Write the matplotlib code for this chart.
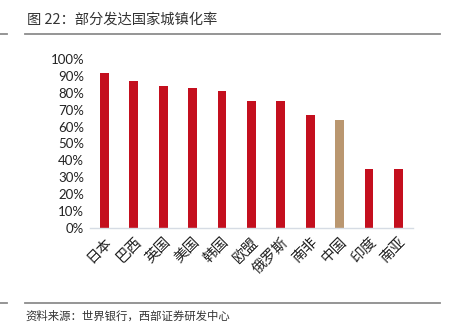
import matplotlib
matplotlib.use("Agg")
import matplotlib.pyplot as plt
from matplotlib.lines import Line2D

categories = ["日本", "巴西", "英国", "美国", "韩国", "欧盟", "俄罗斯", "南非", "中国", "印度", "南亚"]
values = [92, 87, 84, 83, 81, 75, 75, 67, 64, 35, 35]
highlight = "中国"
ytick_vals = list(range(0, 101, 10))
ytick_labels = [f"{v}%" for v in ytick_vals]

title = "图 22：部分发达国家城镇化率"
source = "资料来源：世界银行，西部证券研发中心"

red = "#C40F1E"
tan = "#BA9770"
cjk = ["Noto Sans CJK SC", "DejaVu Sans"]

W, H = 449, 331
fig = plt.figure(figsize=(W / 100, H / 100), dpi=100)
ax = fig.add_axes([89.8 / W, 1 - 228 / H, (413 - 89.8) / W, (228 - 59) / H])

colors = [tan if c == highlight else red for c in categories]
x = list(range(len(categories)))
ax.bar(x, values, width=0.3, color=colors, zorder=2)
ax.set_xlim(-0.5, len(categories) - 0.5)
ax.set_ylim(0, 100)
ax.set_yticks(ytick_vals)
ax.set_yticklabels(ytick_labels, fontsize=9.5, family=["Lato", "DejaVu Sans"], color="#222222")
ax.set_xticks(x)
ax.set_xticklabels(categories, rotation=45, ha="right", rotation_mode="anchor",
                   fontsize=10.5, family=cjk, color="#222222", fontweight="light")
ax.tick_params(axis="both", length=0, pad=4)
ax.tick_params(axis="x", pad=5)
for s in ["top", "right", "left"]:
    ax.spines[s].set_visible(False)
ax.spines["bottom"].set_color("#D6DCE4")
ax.spines["bottom"].set_linewidth(1.0)

fig.text(27 / W, 1 - 20 / H, title, fontsize=10.3, family=cjk, color="#333333",
         va="center", ha="left", fontweight="light")
fig.text(25 / W, 1 - 316 / H, source, fontsize=8.2, family=cjk, color="#333333",
         va="center", ha="left", fontweight="light")

for yy in [34, 302.5]:
    fig.add_artist(Line2D([25 / W, 440 / W], [1 - yy / H, 1 - yy / H], color="#8C8C8C", lw=1.3))
    fig.add_artist(Line2D([0, 7 / W], [1 - yy / H, 1 - yy / H], color="#8C8C8C", lw=1.3))

fig.savefig("out.png", dpi=100)
